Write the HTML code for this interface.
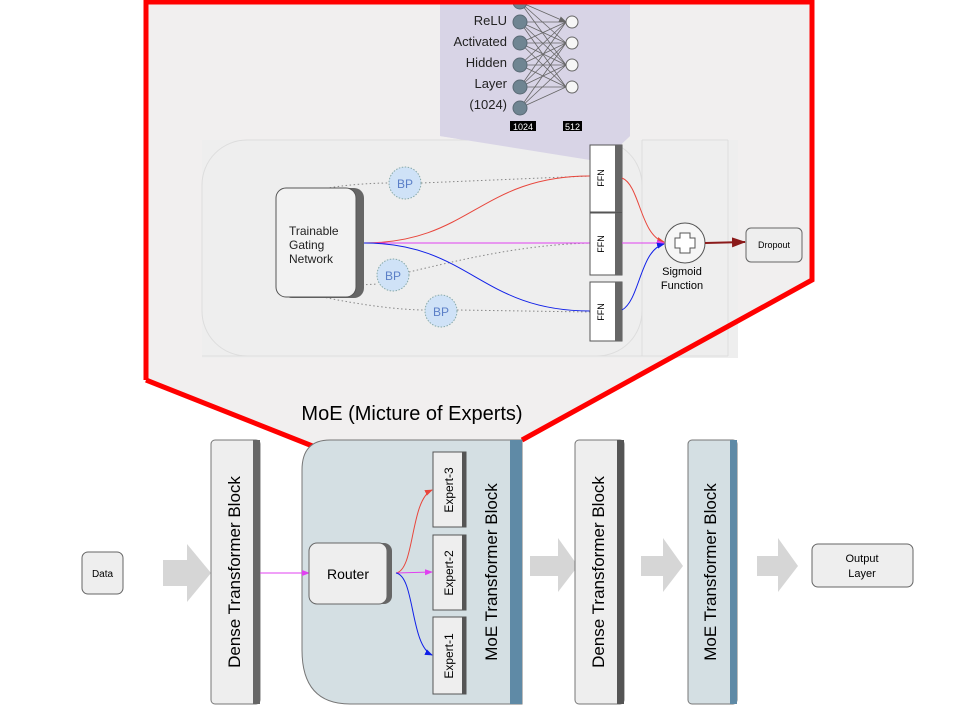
<!DOCTYPE html>
<html><head><meta charset="utf-8"><style>
html,body{margin:0;padding:0;background:#fff;}
svg{display:block;font-family:"Liberation Sans",sans-serif;}
</style></head><body>
<svg width="978" height="720" viewBox="0 0 978 720" xmlns="http://www.w3.org/2000/svg">
<defs>
<marker id="ar" markerWidth="8" markerHeight="8" refX="7" refY="4" orient="auto" markerUnits="userSpaceOnUse"><path d="M0,1 L8,4 L0,7 Z" fill="#e8463c"/></marker>
<marker id="ab" markerWidth="8" markerHeight="8" refX="7" refY="4" orient="auto" markerUnits="userSpaceOnUse"><path d="M0,1 L8,4 L0,7 Z" fill="#1020e8"/></marker>
<marker id="am" markerWidth="8" markerHeight="8" refX="7" refY="4" orient="auto" markerUnits="userSpaceOnUse"><path d="M0,1 L8,4 L0,7 Z" fill="#e040f0"/></marker>
<marker id="ad" markerWidth="14" markerHeight="10" refX="13" refY="5" orient="auto" markerUnits="userSpaceOnUse"><path d="M0,0 L14,5 L0,10 Z" fill="#8b1a1a"/></marker>
<marker id="ag" markerWidth="8" markerHeight="8" refX="7" refY="4" orient="auto" markerUnits="userSpaceOnUse"><path d="M0,1 L8,4 L0,7 Z" fill="#666"/></marker>
</defs>
<polygon points="146,2 812,2 812,280 522,440 315,447 146,380" fill="#f1efef"/>
<polygon points="440,0 630,0 630,136 605,160 590,160 440,136" fill="#d8d4e6"/>
<rect x="202" y="140" width="536" height="218" fill="#eeeeee"/>
<rect x="202" y="140" width="440" height="216" rx="45" fill="#eeeeee" stroke="#ddd"/>
<line x1="642" y1="140" x2="642" y2="356" stroke="#ddd"/>
<line x1="642" y1="140" x2="728" y2="140" stroke="#ddd"/>
<line x1="728" y1="140" x2="728" y2="356" stroke="#ddd"/>
<line x1="202" y1="356" x2="728" y2="356" stroke="#ddd"/>
<polygon points="440,136 630,136 605,160 590,160" fill="#d8d4e6"/>
<g stroke="#666" stroke-width="0.8" fill="none">
<line x1="520" y1="2" x2="566" y2="22" marker-end="url(#ag)"/><line x1="520" y1="2" x2="566" y2="43"/><line x1="520" y1="2" x2="566" y2="65"/>
<line x1="520" y1="22" x2="566" y2="22"/><line x1="520" y1="22" x2="566" y2="43"/><line x1="520" y1="22" x2="566" y2="65"/><line x1="520" y1="22" x2="566" y2="87"/>
<line x1="520" y1="43" x2="566" y2="22"/><line x1="520" y1="43" x2="566" y2="43"/><line x1="520" y1="43" x2="566" y2="65"/><line x1="520" y1="43" x2="566" y2="87"/>
<line x1="520" y1="65" x2="566" y2="22"/><line x1="520" y1="65" x2="566" y2="43"/><line x1="520" y1="65" x2="566" y2="65"/><line x1="520" y1="65" x2="566" y2="87"/>
<line x1="520" y1="87" x2="566" y2="22"/><line x1="520" y1="87" x2="566" y2="43"/><line x1="520" y1="87" x2="566" y2="65"/><line x1="520" y1="87" x2="566" y2="87"/>
<line x1="520" y1="108" x2="566" y2="43"/><line x1="520" y1="108" x2="566" y2="65"/><line x1="520" y1="108" x2="566" y2="87"/>
</g>
<g fill="#6f8592" stroke="#5a6a75"><circle cx="520" cy="2" r="7"/><circle cx="520" cy="22" r="7"/><circle cx="520" cy="43" r="7"/><circle cx="520" cy="65" r="7"/><circle cx="520" cy="87" r="7"/><circle cx="520" cy="108" r="7"/></g>
<g fill="#f6f6f6" stroke="#666"><circle cx="572" cy="22" r="6"/><circle cx="572" cy="43" r="6"/><circle cx="572" cy="65" r="6"/><circle cx="572" cy="87" r="6"/></g>
<g font-size="13" fill="#222" text-anchor="end"><text x="507" y="25">ReLU</text><text x="507" y="46">Activated</text><text x="507" y="67">Hidden</text><text x="507" y="88">Layer</text><text x="507" y="109">(1024)</text></g>
<rect x="510" y="121" width="26" height="10" fill="#000"/><text x="523" y="130" font-size="9" fill="#fff" text-anchor="middle">1024</text>
<rect x="563" y="121" width="19" height="10" fill="#000"/><text x="572.5" y="130" font-size="9" fill="#fff" text-anchor="middle">512</text>
<polyline points="146,380 146,2 812,2 812,280 522,440" fill="none" stroke="#f00" stroke-width="5"/>
<line x1="146" y1="380" x2="315" y2="447" stroke="#f00" stroke-width="5"/>
<g stroke="#888" stroke-width="1" stroke-dasharray="1.5,2.5" fill="none">
<path d="M318,190 C340,185 370,183 390,183"/><path d="M421,183 L590,176"/>
<path d="M358,285 L378,284"/><path d="M409,272 C460,260 520,245 590,243"/>
<path d="M318,296 C360,305 400,310 425,310"/><path d="M457,310 L590,312"/>
</g>
<g fill="#cfe2f7" stroke="#8aa" stroke-dasharray="1.5,1.5"><circle cx="405" cy="183" r="16"/><circle cx="393" cy="275" r="16"/><circle cx="441" cy="311" r="16"/></g>
<g fill="#5b7fc7" font-size="12" text-anchor="middle"><text x="405" y="188">BP</text><text x="393" y="280">BP</text><text x="441" y="316">BP</text></g>
<rect x="282" y="188" width="82" height="110" rx="10" fill="#666"/>
<rect x="276" y="188" width="80" height="109" rx="10" fill="#f2f2f2" stroke="#555"/>
<g font-size="12" fill="#222"><text x="289" y="235">Trainable</text><text x="289" y="249">Gating</text><text x="289" y="263">Network</text></g>
<path d="M364,243 C470,243 480,176 590,176" stroke="#e8463c" fill="none"/>
<path d="M364,243 L590,243" stroke="#e040f0" fill="none"/>
<path d="M364,243 C470,243 480,311 590,311" stroke="#1020e8" fill="none"/>
<g><rect x="590" y="145" width="32" height="67" fill="#fff" stroke="#555"/><rect x="615" y="145" width="7" height="67" fill="#666"/><text transform="translate(604,178) rotate(-90)" font-size="9" text-anchor="middle">FFN</text></g>
<g><rect x="590" y="213" width="32" height="62" fill="#fff" stroke="#555"/><rect x="615" y="213" width="7" height="62" fill="#666"/><text transform="translate(604,244) rotate(-90)" font-size="9" text-anchor="middle">FFN</text></g>
<g><rect x="590" y="282" width="32" height="59" fill="#fff" stroke="#555"/><rect x="615" y="282" width="7" height="59" fill="#666"/><text transform="translate(604,312) rotate(-90)" font-size="9" text-anchor="middle">FFN</text></g>
<path d="M622,178 C640,185 640,235 664,242" stroke="#e8463c" fill="none" marker-end="url(#ar)"/>
<path d="M622,243 L664,243" stroke="#e040f0" fill="none" marker-end="url(#am)"/>
<path d="M622,310 C640,300 640,250 664,244" stroke="#1020e8" fill="none" marker-end="url(#ab)"/>
<circle cx="685" cy="243" r="20" fill="#f6f6f6" stroke="#555"/>
<path d="M680,233 h10 v5 h5 v10 h-5 v5 h-10 v-5 h-5 v-10 h5 z" fill="#fff" stroke="#555"/>
<text x="682" y="275" font-size="11" text-anchor="middle">Sigmoid</text><text x="682" y="289" font-size="11" text-anchor="middle">Function</text>
<line x1="705" y1="243" x2="745" y2="242" stroke="#8b1a1a" stroke-width="2" marker-end="url(#ad)"/>
<rect x="746" y="228" width="56" height="34" rx="5" fill="#eee" stroke="#666"/>
<text x="774" y="248" font-size="9" text-anchor="middle">Dropout</text>
<text x="412" y="420" font-size="20" text-anchor="middle" fill="#000">MoE (Micture of Experts)</text>
<rect x="82" y="552" width="41" height="42" rx="6" fill="#eee" stroke="#666"/>
<text x="102.5" y="577" font-size="10" text-anchor="middle">Data</text>
<g fill="#d6d6d6">
<polygon points="163,560 187,560 187,544 211,573 187,602 187,586 163,586"/>
<polygon points="530,556 558,556 558,538 578,566 558,592 558,576 530,576"/>
<polygon points="641,556 663,556 663,538 683,566 663,592 663,576 641,576"/>
<polygon points="757,556 778,556 778,538 798,566 778,592 778,576 757,576"/>
</g>
<rect x="211" y="440" width="49" height="264" rx="4" fill="#eee" stroke="#777"/><rect x="253" y="440" width="7" height="264" fill="#666"/>
<text transform="translate(240,572) rotate(-90)" font-size="17" text-anchor="middle">Dense Transformer Block</text>
<path d="M330,440 H522 V704 H350 Q302,704 302,650 V470 Q302,440 330,440 Z" fill="#d4dfe3" stroke="#777"/>
<rect x="510" y="440" width="12" height="264" fill="#5f8aa6"/>
<text transform="translate(497,572) rotate(-90)" font-size="17" text-anchor="middle">MoE Transformer Block</text>
<line x1="260" y1="573" x2="309" y2="573" stroke="#e040f0" marker-end="url(#am)"/>
<rect x="314" y="543" width="78" height="61" rx="8" fill="#666"/>
<rect x="309" y="543" width="78" height="61" rx="8" fill="#eee" stroke="#666"/>
<text x="348" y="579" font-size="14" text-anchor="middle">Router</text>
<g><rect x="433" y="452" width="33" height="75" fill="#eee" stroke="#555"/><rect x="462" y="452" width="4" height="75" fill="#555"/><text transform="translate(453,490) rotate(-90)" font-size="12" text-anchor="middle">Expert-3</text></g>
<g><rect x="433" y="535" width="33" height="75" fill="#eee" stroke="#555"/><rect x="462" y="535" width="4" height="75" fill="#555"/><text transform="translate(453,573) rotate(-90)" font-size="12" text-anchor="middle">Expert-2</text></g>
<g><rect x="433" y="617" width="33" height="77" fill="#eee" stroke="#555"/><rect x="462" y="617" width="4" height="77" fill="#555"/><text transform="translate(453,656) rotate(-90)" font-size="12" text-anchor="middle">Expert-1</text></g>
<path d="M396,573 C415,570 410,500 432,490" stroke="#e8463c" fill="none" marker-end="url(#ar)"/>
<path d="M396,573 L432,572" stroke="#e040f0" fill="none" marker-end="url(#am)"/>
<path d="M396,573 C415,576 410,645 432,655" stroke="#1020e8" fill="none" marker-end="url(#ab)"/>
<rect x="575" y="440" width="49" height="264" rx="4" fill="#eee" stroke="#777"/><rect x="617" y="440" width="7" height="264" fill="#555"/>
<text transform="translate(604,572) rotate(-90)" font-size="17" text-anchor="middle">Dense Transformer Block</text>
<rect x="688" y="440" width="49" height="264" rx="4" fill="#d4dfe3" stroke="#777"/><rect x="730" y="440" width="7" height="264" fill="#5f8aa6"/>
<text transform="translate(716,572) rotate(-90)" font-size="17" text-anchor="middle">MoE Transformer Block</text>
<rect x="812" y="544" width="101" height="43" rx="6" fill="#eee" stroke="#666"/>
<text x="862" y="562" font-size="11" text-anchor="middle">Output</text><text x="862" y="577" font-size="11" text-anchor="middle">Layer</text>
</svg>
</body></html>
